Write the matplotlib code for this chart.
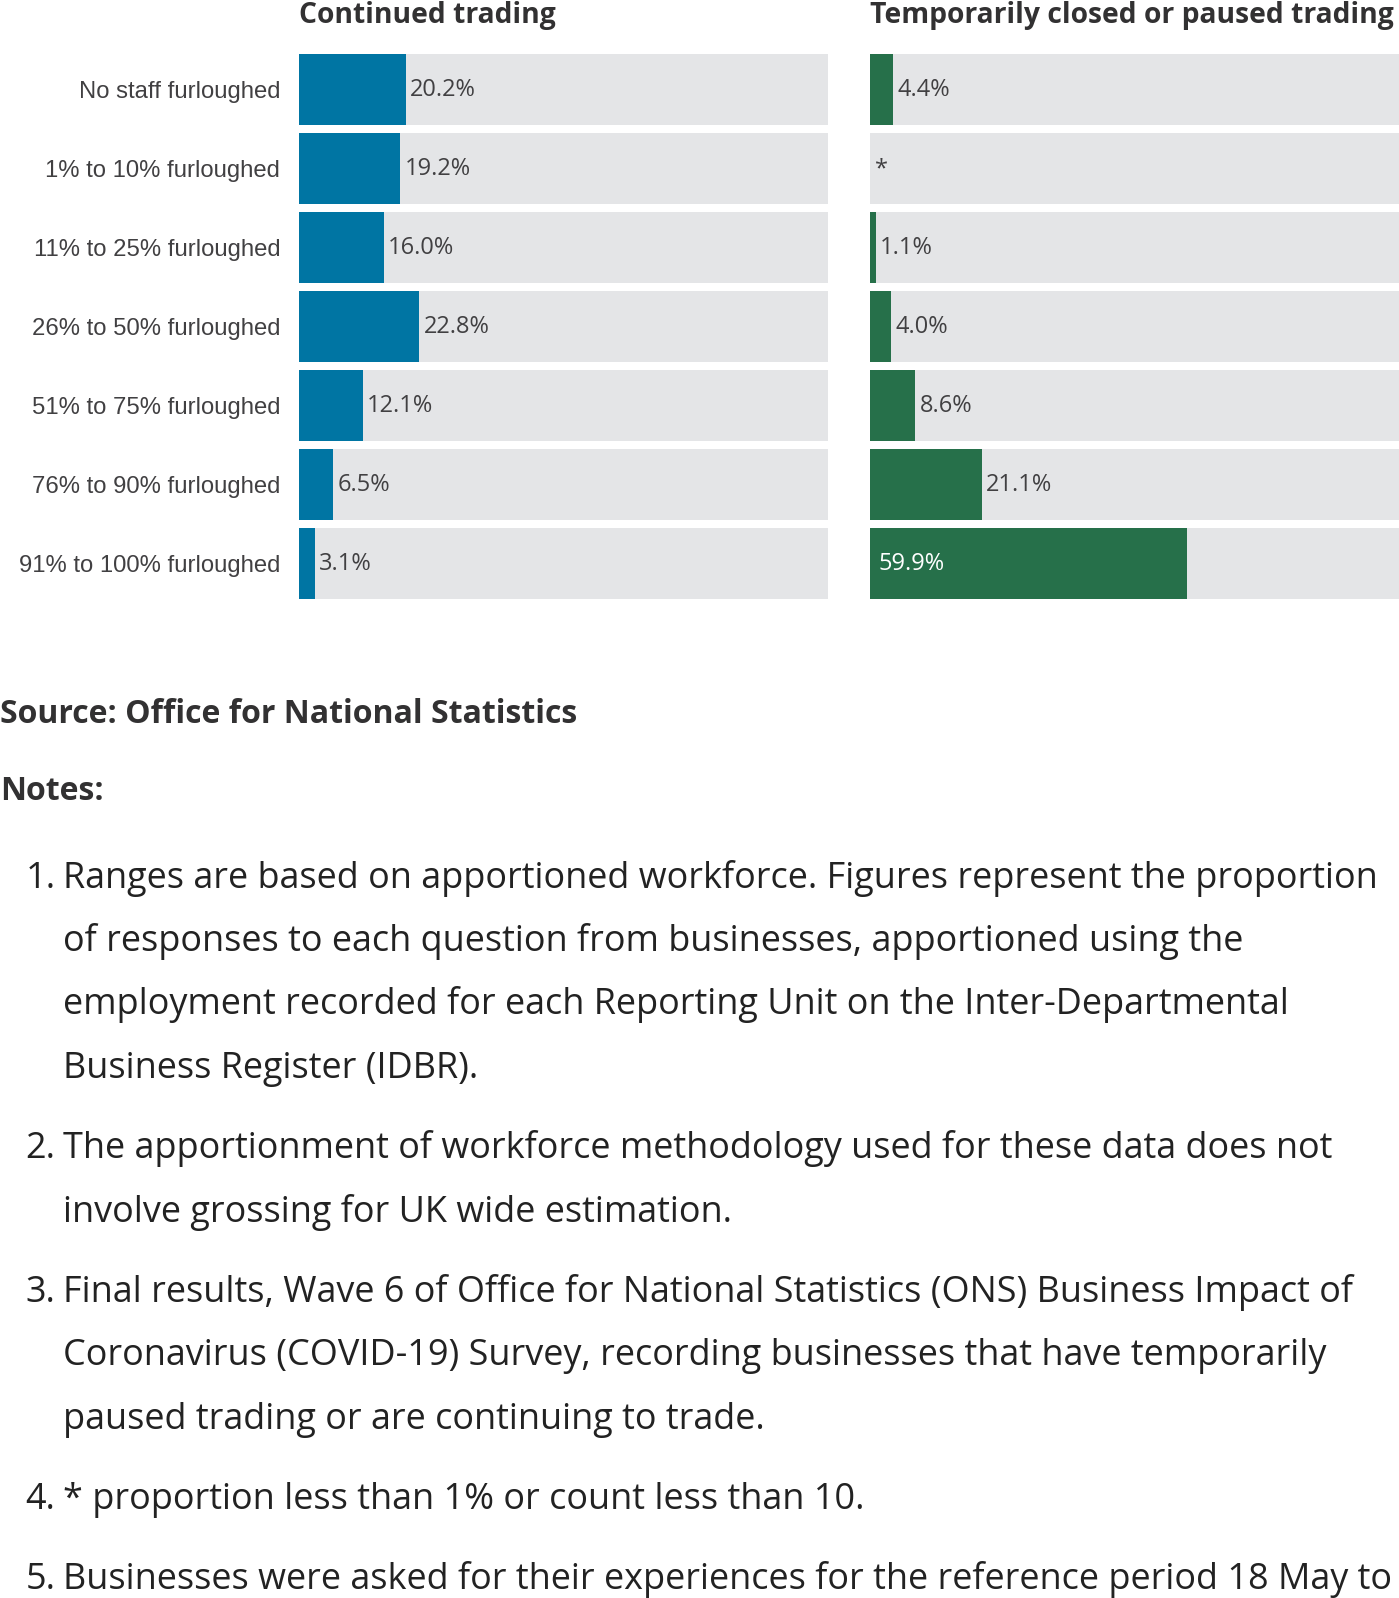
import matplotlib
matplotlib.use("Agg")
import matplotlib.pyplot as plt

# ---------------- data ----------------
categories = [
    "No staff furloughed",
    "1% to 10% furloughed",
    "11% to 25% furloughed",
    "26% to 50% furloughed",
    "51% to 75% furloughed",
    "76% to 90% furloughed",
    "91% to 100% furloughed",
]
panel_titles = ["Continued trading", "Temporarily closed or paused trading"]
continued = [20.2, 19.2, 16.0, 22.8, 12.1, 6.5, 3.1]
paused = [4.4, None, 1.1, 4.0, 8.6, 21.1, 59.9]   # None -> "*"

source_text = "Source: Office for National Statistics"
notes_title = "Notes:"
notes = [
    ["Ranges are based on apportioned workforce. Figures represent the proportion",
     "of responses to each question from businesses, apportioned using the",
     "employment recorded for each Reporting Unit on the Inter-Departmental",
     "Business Register (IDBR)."],
    ["The apportionment of workforce methodology used for these data does not",
     "involve grossing for UK wide estimation."],
    ["Final results, Wave 6 of Office for National Statistics (ONS) Business Impact of",
     "Coronavirus (COVID-19) Survey, recording businesses that have temporarily",
     "paused trading or are continuing to trade."],
    ["* proportion less than 1% or count less than 10."],
    ["Businesses were asked for their experiences for the reference period 18 May to"],
]

# ---------------- style ----------------
W, H = 1399, 1598
BLUE = "#0075A3"
GREEN = "#26704A"
BG = "#E4E5E7"
LABEL = "#414042"
DARK = "#323132"
TEXT = "#222222"
OPEN = ["Open Sans", "DejaVu Sans"]
LIB = ["Liberation Sans", "DejaVu Sans"]

fig = plt.figure(figsize=(W / 100, H / 100), dpi=100)
fig.patch.set_facecolor("white")


def fx(x):
    return x / W


def fy(y):
    return 1 - y / H


row_pitch = 79.0
top_px = 50.0
bottom_px = top_px + row_pitch * len(categories)
bar_h = 71.0 / row_pitch

panels = [
    (299.0, 528.5, continued, BLUE),
    (870.0, 529.0, paused, GREEN),
]

ypos = list(range(len(categories)))
for i, (x0, w, vals, col) in enumerate(panels):
    ax = fig.add_axes([fx(x0), fy(bottom_px), w / W, (bottom_px - top_px) / H])
    ax.barh(ypos, [100] * len(ypos), height=bar_h, color=BG, edgecolor="none")
    ax.barh(ypos, [v if v is not None else 0 for v in vals], height=bar_h,
            color=col, edgecolor="none")
    ax.set_xlim(0, 100)
    ax.set_ylim(len(ypos) - 0.5, -0.5)
    for s in ax.spines.values():
        s.set_visible(False)
    ax.set_xticks([])
    if i == 0:
        ax.set_yticks(ypos)
        ax.set_yticklabels(categories, fontfamily=LIB, fontsize=17.2, color=LABEL)
        ax.tick_params(axis="y", length=0, pad=13.5)
    else:
        ax.set_yticks([])
    for y, v in zip(ypos, vals):
        if v is None:
            ax.annotate("*", xy=(0, y), xytext=(3.5, -0.5), textcoords="offset points",
                        ha="left", va="center", fontfamily=OPEN, fontsize=17,
                        color=LABEL)
        elif v > 40:
            ax.annotate(f"{v:.1f}%", xy=(0, y), xytext=(6, -0.5), textcoords="offset points",
                        ha="left", va="center", fontfamily=OPEN, fontsize=17,
                        color="white")
        else:
            ax.annotate(f"{v:.1f}%", xy=(v, y), xytext=(2.8, -0.5), textcoords="offset points",
                        ha="left", va="center", fontfamily=OPEN, fontsize=17,
                        color=LABEL)
    fig.text(fx(x0), fy(23), panel_titles[i], ha="left", va="baseline",
             fontfamily=OPEN, fontweight="bold", fontsize=20.3, color=DARK)

# ---------------- source & notes ----------------
fig.text(fx(0), fy(723), source_text, ha="left", va="baseline",
         fontfamily=OPEN, fontweight="bold", fontsize=23, color=DARK)
fig.text(fx(0), fy(800), notes_title, ha="left", va="baseline",
         fontfamily=OPEN, fontweight="bold", fontsize=23, color=DARK)

base = 887.5
line_step = 63.5
para_step = 80.2
y = base
for k, para in enumerate(notes):
    fig.text(fx(25.5), fy(y), f"{k + 1}.", ha="left", va="baseline",
             fontfamily=OPEN, fontsize=25.88, color=TEXT)
    for j, line in enumerate(para):
        fig.text(fx(63), fy(y), line, ha="left", va="baseline",
                 fontfamily=OPEN, fontsize=25.88, color=TEXT)
        if j < len(para) - 1:
            y += line_step
    y += para_step

fig.savefig("out.png", dpi=100, facecolor="white")
